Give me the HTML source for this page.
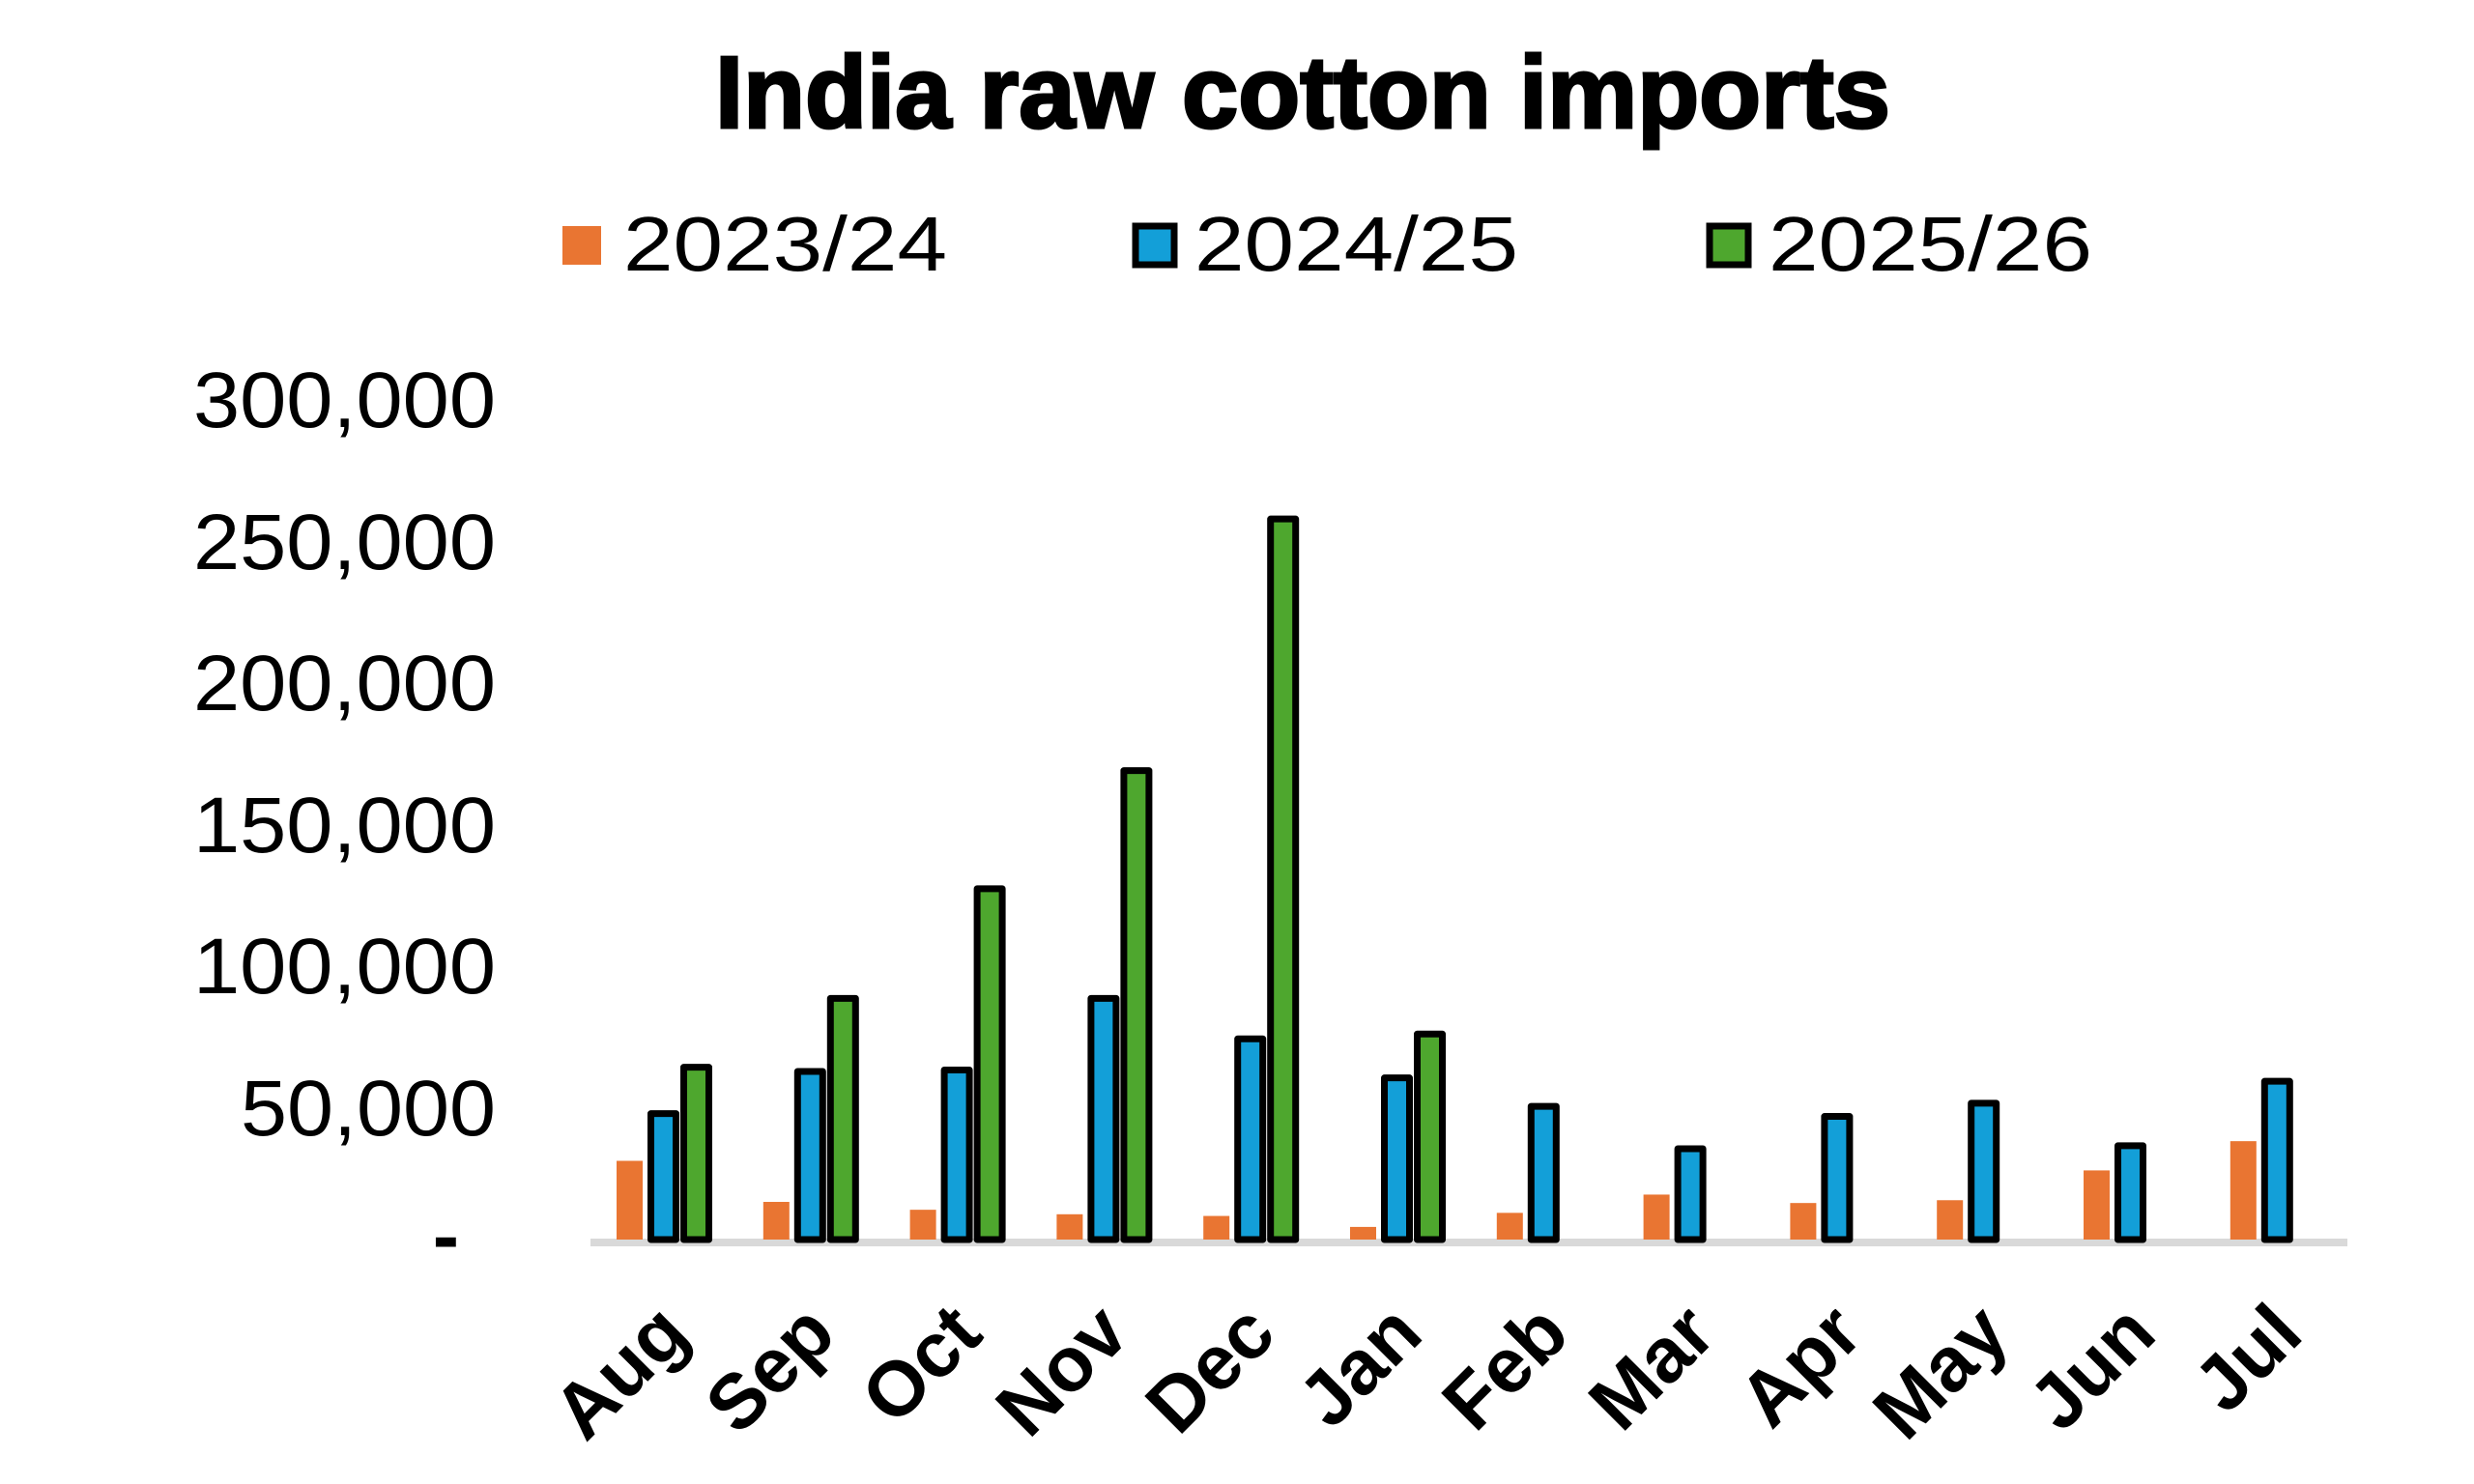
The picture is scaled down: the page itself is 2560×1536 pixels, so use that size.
<!DOCTYPE html>
<html><head><meta charset="utf-8"><style>
html,body{margin:0;padding:0;background:#fff;}
svg{display:block;}
</style></head><body>
<svg width="2560" height="1536" viewBox="0 0 2560 1536" xmlns="http://www.w3.org/2000/svg" font-family="Liberation Sans, sans-serif">
<rect width="2560" height="1536" fill="#fff"/>
<text x="1348" y="132" text-anchor="middle" font-size="106" font-weight="bold" textLength="1216" lengthAdjust="spacingAndGlyphs" stroke="#000" stroke-width="3">India raw cotton imports</text>
<!-- legend -->
<rect x="582" y="234" width="40" height="40" fill="#E97532"/>
<text x="645" y="280" font-size="80" textLength="335" lengthAdjust="spacingAndGlyphs">2023/24</text>
<rect x="1175" y="234" width="40" height="40" fill="#139FD8" stroke="#000" stroke-width="7"/>
<text x="1236" y="280" font-size="80" textLength="335" lengthAdjust="spacingAndGlyphs">2024/25</text>
<rect x="1769" y="234" width="40" height="40" fill="#4EA72E" stroke="#000" stroke-width="7"/>
<text x="1830" y="280" font-size="80" textLength="335" lengthAdjust="spacingAndGlyphs">2025/26</text>
<!-- y labels -->
<g font-size="82" text-anchor="end">
<text x="513" y="442" textLength="313" lengthAdjust="spacingAndGlyphs">300,000</text>
<text x="513" y="589" textLength="313" lengthAdjust="spacingAndGlyphs">250,000</text>
<text x="513" y="735" textLength="313" lengthAdjust="spacingAndGlyphs">200,000</text>
<text x="513" y="882" textLength="313" lengthAdjust="spacingAndGlyphs">150,000</text>
<text x="513" y="1028" textLength="313" lengthAdjust="spacingAndGlyphs">100,000</text>
<text x="513" y="1175" textLength="264" lengthAdjust="spacingAndGlyphs">50,000</text>
<text x="475" y="1307" font-weight="bold">-</text>
</g>
<!-- axis -->
<rect x="611" y="1282" width="1818" height="8" fill="#D9D9D9"/>
<g id="bars" stroke="#000" stroke-width="7" stroke-linejoin="round">
</g>
<script>
var d=[[28,46,62.5],[13.4,61,87],[10.6,61.5,126],[9,87,168],[8.4,72.6,257.5],[4.5,58.7,74.3],[9.5,48.6,null],[16,33.5,null],[13,45,null],[14,49.7,null],[24.6,34.6,null],[35,57.5,null]];
var m=["Aug","Sep","Oct","Nov","Dec","Jan","Feb","Mar","Apr","May","Jun","Jul"];
var ns="http://www.w3.org/2000/svg",g=document.getElementById("bars"),s=document.querySelector("svg");
var Z=1283,K=2.91;
for(var i=0;i<12;i++){
 var x0=638+i*151.8;
 var h=d[i][0]*K;
 var r=document.createElementNS(ns,"rect");
 r.setAttribute("x",x0);r.setAttribute("y",Z-h);r.setAttribute("width",27);r.setAttribute("height",h);
 r.setAttribute("fill","#E97532");r.setAttribute("stroke","none");g.appendChild(r);
 var cols=["#139FD8","#4EA72E"];
 for(var j=1;j<3;j++){
  if(d[i][j]==null)continue;
  var hh=d[i][j]*K;
  var b=document.createElementNS(ns,"rect");
  b.setAttribute("x",x0+32+(j-1)*34+3.5);b.setAttribute("y",Z-hh+3.5);b.setAttribute("width",26);b.setAttribute("height",hh-3.5);
  b.setAttribute("fill",cols[j-1]);g.appendChild(b);
 }
 var t=document.createElementNS(ns,"text");
 var cx=x0+50+28;
 t.setAttribute("x",cx);t.setAttribute("y",1384);
 t.setAttribute("text-anchor","end");t.setAttribute("font-size","80");t.setAttribute("font-weight","bold");
 t.setAttribute("transform","rotate(-45 "+cx+" 1384)");
 t.textContent=m[i];s.appendChild(t);
}
</script>
</svg>
</body></html>
